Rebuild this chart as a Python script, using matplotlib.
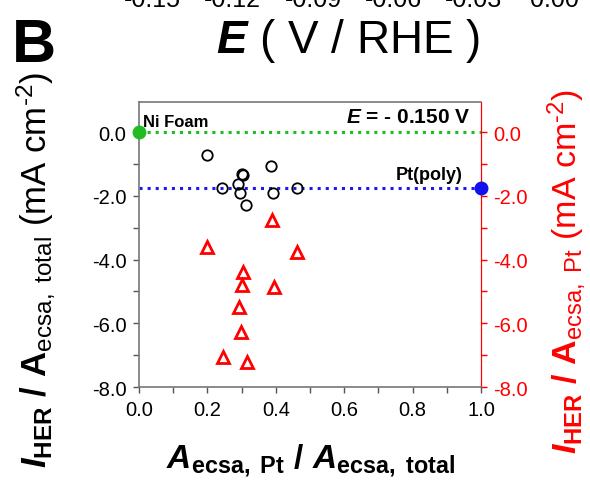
import numpy as np
import matplotlib.pyplot as plt
from matplotlib.ticker import MultipleLocator, FormatStrFormatter

plt.rcParams['font.family'] = 'Liberation Sans'
plt.rcParams['mathtext.fontset'] = 'custom'
plt.rcParams['mathtext.rm'] = 'Liberation Sans'
plt.rcParams['mathtext.it'] = 'Liberation Sans:italic'
plt.rcParams['mathtext.bf'] = 'Liberation Sans:bold'
plt.rcParams['mathtext.bfit'] = 'Liberation Sans:bold:italic'
plt.rcParams['axes.unicode_minus'] = False

# Pt/Ni samples: area fraction, current per total area, current per Pt area
frac_total = [0.199, 0.244, 0.289, 0.295, 0.300, 0.303, 0.313, 0.387, 0.392, 0.461, 1.0]
j_total = [-0.72, -1.74, -1.61, -1.91, -1.30, -1.35, -2.29, -1.07, -1.92, -1.74, -1.74]
frac_pt = [0.389, 0.199, 0.463, 0.304, 0.302, 0.394, 0.292, 0.299, 0.245, 0.316]
j_pt = [-2.76, -3.61, -3.75, -4.39, -4.79, -4.87, -5.49, -6.26, -7.05, -7.21]
# references
ni_foam = (0.0, 0.0)
pt_poly = (1.0, -1.76)
top_ticks = ['-0.15', '-0.12', '-0.09', '-0.06', '-0.03', '0.00']

W, H = 590, 485
fig = plt.figure(figsize=(W / 100, H / 100), dpi=100)
ax = fig.add_axes([139 / W, 1 - 388 / H, (481 - 139) / W, (388 - 103) / H])

ax.plot([0, 1], [ni_foam[1], ni_foam[1]], linestyle=':', color='#22bb22', linewidth=2.2)
ax.plot([0, 1], [pt_poly[1], pt_poly[1]], linestyle=':', color='#1a1aee', linewidth=2.2)
ax.plot(frac_total, j_total, linestyle='none', marker='o', markersize=7.5,
        markerfacecolor='none', markeredgecolor='black', markeredgewidth=1.3, clip_on=False)
ax.plot(frac_pt, j_pt, linestyle='none', marker='^', markersize=8,
        markerfacecolor='none', markeredgecolor='red', markeredgewidth=2.0, clip_on=False)
ax.plot(*ni_foam, marker='o', markersize=9, color='#22bb22', clip_on=False, zorder=5)
ax.plot(*pt_poly, marker='o', markersize=9, color='#1111ee', clip_on=False, zorder=5)

ax.text(0.012, 0.09, 'Ni Foam', fontsize=12, fontweight='bold', va='bottom')
ax.text(0.945, -1.58, 'Pt(poly)', fontsize=13, fontweight='bold', ha='right', va='bottom')
ax.text(0.97, 0.2, r'$\mathbfit{E}$ = - 0.150 V', fontsize=15, fontweight='bold',
        ha='right', va='bottom')

ax.set_xlim(0, 1.0)
ax.set_ylim(-8, 0.95)
ax.xaxis.set_major_locator(MultipleLocator(0.2))
ax.xaxis.set_minor_locator(MultipleLocator(0.1))
ax.yaxis.set_major_locator(MultipleLocator(2.0))
ax.yaxis.set_minor_locator(MultipleLocator(1.0))
ax.xaxis.set_major_formatter(FormatStrFormatter('%.1f'))
ax.yaxis.set_major_formatter(FormatStrFormatter('%.1f'))
ax.tick_params(which='both', direction='out', length=4, width=1, color='#555555',
               labelsize=14.5, pad=5)
for s in ['left', 'top', 'bottom']:
    ax.spines[s].set_color('#777777')
    ax.spines[s].set_linewidth(1.2)
ax.spines['right'].set_color('red')

ax2 = ax.twinx()
ax2.set_ylim(ax.get_ylim())
ax2.yaxis.set_major_locator(MultipleLocator(2.0))
ax2.yaxis.set_minor_locator(MultipleLocator(1.0))
ax2.yaxis.set_major_formatter(FormatStrFormatter('%.1f'))
ax2.tick_params(which='both', direction='out', length=4, width=1, colors='red',
                labelsize=14.5, pad=5)
for s in ['left', 'top', 'bottom']:
    ax2.spines[s].set_visible(False)
ax2.spines['right'].set_color('red')
ax.set_zorder(ax2.get_zorder() + 1)
ax.patch.set_visible(False)

ax.set_xlabel(r'$\mathbfit{A}_{\mathbf{ecsa,\ Pt}}\ \mathbf{/}\ \mathbfit{A}_{\mathbf{ecsa,\ total}}$',
              fontsize=24, labelpad=16)
ax.set_ylabel(r'$\mathbfit{I}_{\mathbf{HER}}\ \mathbf{/}\ \mathbf{A}_{\mathrm{ecsa,\ total}}$ (mA cm$^{\text{-2}}$)',
              fontsize=25)
ax.yaxis.set_label_coords(-0.24, 0.415)
ax2.set_ylabel(r'$\mathbfit{I}_{\mathbf{HER}}\ \mathbf{/}\ \mathbf{A}_{\mathrm{ecsa,\ Pt}}$ (mA cm$^{\text{-2}}$)',
               fontsize=24.5, color='red')
ax2.yaxis.set_label_coords(1.19, 0.41)

# pieces of the panel above (cut off) and the panel letter
for i, t in enumerate(top_ticks):
    fig.text((152 + 80.5 * i) / W, 1 - 7 / H, t, fontsize=18, ha='center', va='baseline')
fig.text(348 / W, 1 - 53 / H, r'$\mathbfit{E}$ ( V / RHE )', fontsize=33, ha='center', va='baseline')
fig.text(12 / W, 1 - 62 / H, 'B', fontsize=44, fontweight='bold', va='baseline')

fig.savefig('out.png', dpi=100)
